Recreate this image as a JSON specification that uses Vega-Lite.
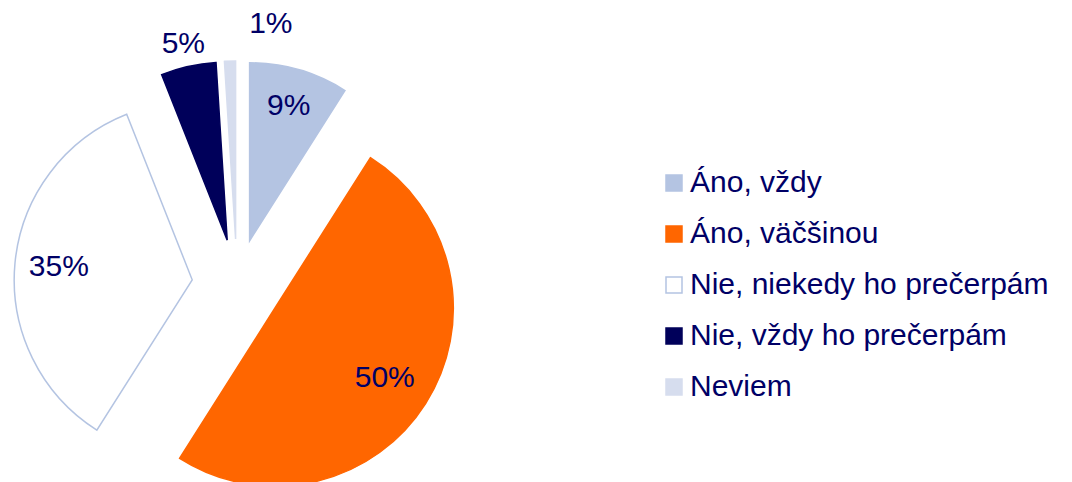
{
  "$schema": "https://vega.github.io/schema/vega-lite/v6.json",
  "autosize": "none",
  "width": 474,
  "height": 396,
  "padding": {"left": 0, "top": 86, "right": 598, "bottom": 0},
  "background": "white",
  "config": {"view": {"stroke": null}, "font": "Liberation Sans"},
  "data": {
    "values": [
      {"idx": 1, "cat": "Áno, vždy", "value": 0.09},
      {"idx": 2, "cat": "Áno, väčšinou", "value": 0.50},
      {"idx": 3, "cat": "Nie, niekedy ho prečerpám", "value": 0.35},
      {"idx": 4, "cat": "Nie, vždy ho prečerpám", "value": 0.05},
      {"idx": 5, "cat": "Neviem", "value": 0.01}
    ]
  },
  "encoding": {
    "theta": {"field": "value", "type": "quantitative", "stack": true, "scale": {"domain": [0, 1]}},
    "order": {"field": "idx", "type": "quantitative"}
  },
  "layer": [
    {
      "mark": {"type": "arc", "radius": 178, "xOffset": 12.6, "yOffset": -43.2, "strokeWidth": 1.5},
      "encoding": {
        "fill": {"field": "cat", "type": "nominal", "sort": null,
          "scale": {"domain": ["Áno, vždy", "Áno, väčšinou", "Nie, niekedy ho prečerpám", "Nie, vždy ho prečerpám", "Neviem"],
                    "range": ["#B4C4E2", "#FF6600", "#FFFFFF", "#00005A", "#D6DDEE"]},
          "legend": {"orient": "none", "legendX": 659, "legendY": 82, "title": null, "symbolType": "square", "symbolSize": 256,
                     "symbolStrokeWidth": 1.5, "labelFontSize": 30, "labelColor": "#000066", "labelFont": "Liberation Sans",
                     "labelOffset": 1, "rowPadding": 21, "padding": 0, "labelLimit": 600}},
        "stroke": {"field": "cat", "type": "nominal", "sort": null,
          "scale": {"domain": ["Áno, vždy", "Áno, väčšinou", "Nie, niekedy ho prečerpám", "Nie, vždy ho prečerpám", "Neviem"],
                    "range": ["#B4C4E2", "#FF6600", "#B4C4E2", "#00005A", "#D6DDEE"]}},
        "opacity": {"condition": {"test": "datum.cat === 'Áno, vždy'", "value": 1}, "value": 0}
      }
    },
    {
      "mark": {"type": "arc", "radius": 178, "xOffset": 38, "yOffset": 24, "strokeWidth": 1.5},
      "encoding": {
        "fill": {"field": "cat", "type": "nominal", "sort": null},
        "stroke": {"field": "cat", "type": "nominal", "sort": null},
        "opacity": {"condition": {"test": "datum.cat === 'Áno, väčšinou'", "value": 1}, "value": 0}
      }
    },
    {
      "mark": {"type": "arc", "radius": 178, "xOffset": -44.8, "yOffset": -4.2, "strokeWidth": 1.5},
      "encoding": {
        "fill": {"field": "cat", "type": "nominal", "sort": null},
        "stroke": {"field": "cat", "type": "nominal", "sort": null},
        "opacity": {"condition": {"test": "datum.cat === 'Nie, niekedy ho prečerpám'", "value": 1}, "value": 0}
      }
    },
    {
      "mark": {"type": "arc", "radius": 178, "xOffset": -9.8, "yOffset": -43.9, "strokeWidth": 1.5},
      "encoding": {
        "fill": {"field": "cat", "type": "nominal", "sort": null},
        "stroke": {"field": "cat", "type": "nominal", "sort": null},
        "opacity": {"condition": {"test": "datum.cat === 'Nie, vždy ho prečerpám'", "value": 1}, "value": 0}
      }
    },
    {
      "mark": {"type": "arc", "radius": 178, "xOffset": -1.4, "yOffset": -45, "strokeWidth": 1.5},
      "encoding": {
        "fill": {"field": "cat", "type": "nominal", "sort": null},
        "stroke": {"field": "cat", "type": "nominal", "sort": null},
        "opacity": {"condition": {"test": "datum.cat === 'Neviem'", "value": 1}, "value": 0}
      }
    },
    {
      "mark": {"type": "text", "radius": 140, "xOffset": 12.6, "yOffset": -43.2, "fontSize": 30, "color": "#000066", "align": "center", "baseline": "middle"},
      "encoding": {
        "detail": {"field": "cat", "type": "nominal"},
        "text": {"field": "value", "type": "quantitative", "format": ".0%"},
        "opacity": {"condition": {"test": "datum.cat === 'Áno, vždy'", "value": 1}, "value": 0}
      }
    },
    {
      "mark": {"type": "text", "radius": 130, "xOffset": 38, "yOffset": 24, "fontSize": 30, "color": "#000066", "align": "center", "baseline": "middle"},
      "encoding": {
        "detail": {"field": "cat", "type": "nominal"},
        "text": {"field": "value", "type": "quantitative", "format": ".0%"},
        "opacity": {"condition": {"test": "datum.cat === 'Áno, väčšinou'", "value": 1}, "value": 0}
      }
    },
    {
      "mark": {"type": "text", "radius": 134, "xOffset": -44.8, "yOffset": -4.2, "fontSize": 30, "color": "#000066", "align": "center", "baseline": "middle"},
      "encoding": {
        "detail": {"field": "cat", "type": "nominal"},
        "text": {"field": "value", "type": "quantitative", "format": ".0%"},
        "opacity": {"condition": {"test": "datum.cat === 'Nie, niekedy ho prečerpám'", "value": 1}, "value": 0}
      }
    },
    {
      "mark": {"type": "text", "radius": 201, "xOffset": -9.8, "yOffset": -43.9, "fontSize": 30, "color": "#000066", "align": "center", "baseline": "middle"},
      "encoding": {
        "detail": {"field": "cat", "type": "nominal"},
        "text": {"field": "value", "type": "quantitative", "format": ".0%"},
        "opacity": {"condition": {"test": "datum.cat === 'Nie, vždy ho prečerpám'", "value": 1}, "value": 0}
      }
    },
    {
      "mark": {"type": "text", "radius": 215, "xOffset": -1.4, "yOffset": -45, "dx": 42, "fontSize": 30, "color": "#000066", "align": "center", "baseline": "middle"},
      "encoding": {
        "detail": {"field": "cat", "type": "nominal"},
        "text": {"field": "value", "type": "quantitative", "format": ".0%"},
        "opacity": {"condition": {"test": "datum.cat === 'Neviem'", "value": 1}, "value": 0}
      }
    }
  ]
}
